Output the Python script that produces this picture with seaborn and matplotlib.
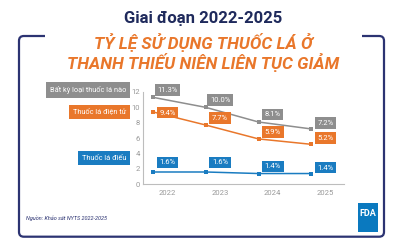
import numpy as np
import pandas as pd
import matplotlib
matplotlib.use("Agg")
import matplotlib.pyplot as plt
from matplotlib.patches import FancyBboxPatch, Rectangle
import seaborn as sns

# data
years = ["2022", "2023", "2024", "2025"]
series_names = ["Bất kỳ loại thuốc lá nào", "Thuốc lá điện tử", "Thuốc lá điếu"]
any_tobacco = [11.3, 10.0, 8.1, 7.2]
e_cigarettes = [9.4, 7.7, 5.9, 5.2]
cigarettes = [1.6, 1.6, 1.4, 1.4]
y_ticks = [0, 2, 4, 6, 8, 10, 12]

title = "Giai đoạn 2022-2025"
headline = ["TỶ LỆ SỬ DỤNG THUỐC LÁ Ở", "THANH THIẾU NIÊN LIÊN TỤC GIẢM"]
source = "Nguồn: Khảo sát NYTS 2022-2025"

# styling / layout
GRAY = "#8e8e8e"
ORANGE = "#e9772b"
BLUE = "#1a7cc1"
NAVY = "#2c3372"
TITLE_NAVY = "#1f2a5c"
colors = [GRAY, ORANGE, BLUE]
tick_shift = 0.27  # tick labels sit a bit right of the points
label_offsets = [
    [0.95, 0.95, 1.0, 0.75],
    [-0.1, 0.9, 0.9, 0.8],
    [1.25, 1.25, 0.95, 0.75],
]
legend_y_px = [90, 112, 158]

W, H = 400, 250


def fx(px):
    return px / W


def fy(py):
    return 1 - py / H


sns.set_theme(style="white")
plt.rcParams["font.family"] = ["Roboto", "DejaVu Sans"]

values = [any_tobacco, e_cigarettes, cigarettes]
df = pd.DataFrame({
    "pos": np.tile(np.arange(len(years)), len(series_names)),
    "value": np.concatenate(values),
    "series": np.repeat(series_names, len(years)),
})

fig = plt.figure(figsize=(4, 2.5), dpi=100)
ax = fig.add_axes([fx(142.5), fy(184.3), fx(344) - fx(142.5), fy(92) - fy(184.3)])

sns.lineplot(
    data=df, x="pos", y="value", hue="series", hue_order=series_names,
    palette=colors, marker="s", markersize=2.3, markeredgewidth=0,
    linewidth=1.1, legend=False, ax=ax,
)

ax.set_xlim(-0.205, 3.625)
ax.set_ylim(0, 12)
ax.set_xticks(np.arange(len(years)) + tick_shift, years)
ax.set_yticks(y_ticks)
ax.set_xlabel("")
ax.set_ylabel("")
ax.tick_params(direction="in", length=3, width=0.6, color="#b0b0b0",
               labelsize=5.5, labelcolor="#999999")
ax.tick_params(axis="y", pad=2)
ax.tick_params(axis="x", pad=4)
for side in ["top", "right"]:
    ax.spines[side].set_visible(False)
for side in ["left", "bottom"]:
    ax.spines[side].set_color("#bdbdbd")
    ax.spines[side].set_linewidth(0.8)

# value boxes
for vals, offs, c in zip(values, label_offsets, colors):
    for i, (v, o) in enumerate(zip(vals, offs)):
        ax.text(i + tick_shift, v + o, f"{v:.1f}%", ha="center", va="center",
                fontsize=5.5, color="white", clip_on=False,
                bbox=dict(boxstyle="square,pad=0.35", fc=c, ec="none"))

# series name boxes on the left
for name, c, ypx in zip(series_names, colors, legend_y_px):
    fig.text(fx(126), fy(ypx), name, ha="right", va="center", fontsize=5.3,
             color="white",
             bbox=dict(boxstyle="square,pad=0.5", fc=c, ec="none"))

# frame with a gap behind the headline
frame = FancyBboxPatch((fx(19), fy(236.7)), fx(384) - fx(19), fy(36) - fy(236.7),
                       boxstyle="round,pad=0,rounding_size=0.012",
                       mutation_aspect=W / H, transform=fig.transFigure,
                       fc="none", ec=NAVY, lw=1.6, zorder=1)
fig.add_artist(frame)
cover = Rectangle((fx(45), fy(40)), fx(362) - fx(45), fy(30) - fy(40),
                  transform=fig.transFigure, fc="white", ec="none", zorder=1.5)
fig.add_artist(cover)

fig.text(fx(203.5), fy(19), title, ha="center", va="center", fontsize=12,
         fontweight="bold", color=TITLE_NAVY)
for line, ypx in zip(headline, [43, 63]):
    fig.text(fx(203.5), fy(ypx), line, ha="center", va="center", fontsize=12.3,
             fontweight="bold", style="italic", color=ORANGE)

fig.text(fx(26), fy(218), source, ha="left", va="center", fontsize=4,
         style="italic", color=NAVY)

# FDA mark
logo = Rectangle((fx(358), fy(232)), fx(378) - fx(358), fy(203) - fy(232),
                 transform=fig.transFigure, fc="#0a79bf", ec="none", zorder=2)
fig.add_artist(logo)
fig.text(fx(368), fy(213), "FDA", ha="center", va="center", fontsize=6.5,
         fontweight="bold", color="white", zorder=3)

fig.savefig("out.png", dpi=100)
